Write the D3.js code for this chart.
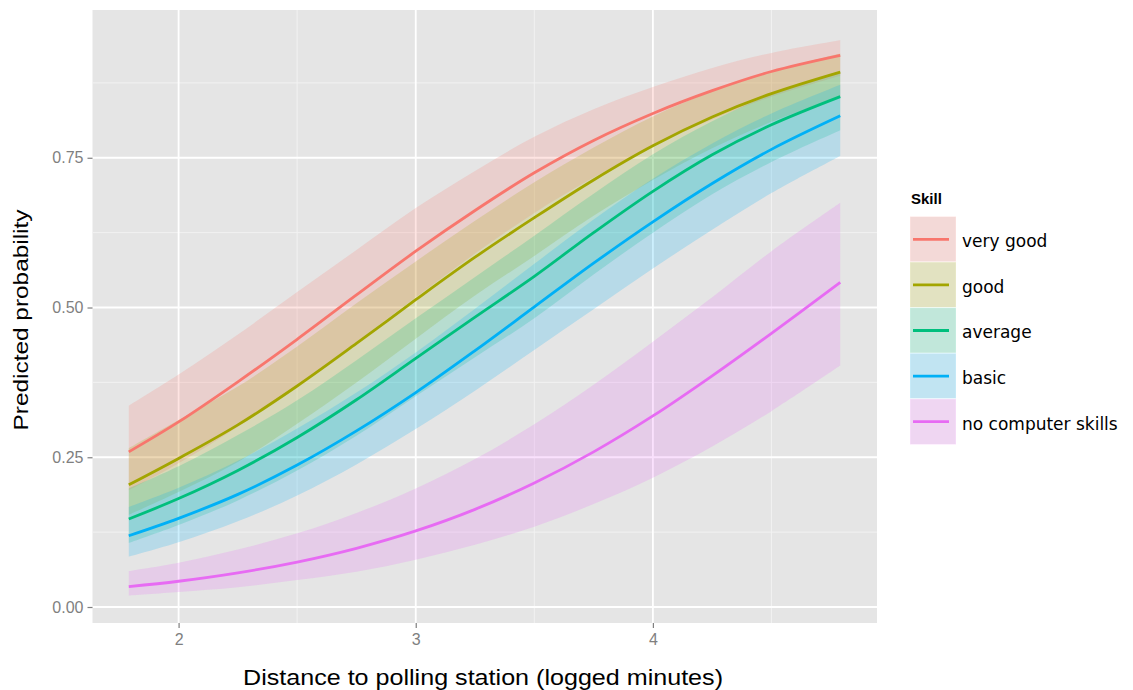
<!DOCTYPE html>
<html>
<head>
<meta charset="utf-8">
<title>Predicted probability by skill</title>
<script src="https://d3js.org/d3.v7.min.js"></script>
<style>
  body { margin: 0; background: #fff; }
  svg { display: block; font-family: "Liberation Sans", Arial, sans-serif; }
</style>
</head>
<body>
<div id="chart"></div>
<script>
// values
const skills = ["very good", "good", "average", "basic", "no computer skills"];
const colors = ["#F8766D", "#A3A500", "#00BF7D", "#00B0F6", "#E76BF3"];

const distance = [1.79, 2.0, 2.25, 2.5, 2.75, 3.0, 3.25, 3.5, 3.75, 4.0, 4.25, 4.5, 4.79];

const fitVeryGood = [0.259, 0.309, 0.376, 0.447, 0.521, 0.594, 0.662, 0.725, 0.779, 0.824, 0.862, 0.894, 0.921];
const lowVeryGood = [0.195, 0.240, 0.301, 0.369, 0.443, 0.517, 0.590, 0.658, 0.717, 0.769, 0.814, 0.852, 0.887];
const highVeryGood = [0.336, 0.388, 0.455, 0.526, 0.596, 0.666, 0.728, 0.785, 0.831, 0.868, 0.900, 0.925, 0.946];

const fitGood = [0.204, 0.248, 0.304, 0.369, 0.440, 0.513, 0.584, 0.650, 0.713, 0.770, 0.818, 0.857, 0.893];
const lowGood = [0.154, 0.192, 0.242, 0.306, 0.375, 0.448, 0.520, 0.586, 0.653, 0.713, 0.766, 0.810, 0.852];
const highGood = [0.265, 0.312, 0.368, 0.435, 0.507, 0.577, 0.645, 0.709, 0.767, 0.819, 0.861, 0.894, 0.924];

const fitAverage = [0.147, 0.181, 0.228, 0.283, 0.346, 0.415, 0.484, 0.552, 0.625, 0.694, 0.755, 0.805, 0.852];
const lowAverage = [0.107, 0.137, 0.178, 0.228, 0.286, 0.352, 0.417, 0.482, 0.555, 0.625, 0.689, 0.743, 0.796];
const highAverage = [0.198, 0.235, 0.287, 0.345, 0.412, 0.482, 0.551, 0.620, 0.690, 0.756, 0.811, 0.856, 0.895];

const fitBasic = [0.119, 0.148, 0.188, 0.237, 0.294, 0.358, 0.428, 0.501, 0.574, 0.643, 0.707, 0.764, 0.820];
const lowBasic = [0.084, 0.108, 0.143, 0.186, 0.238, 0.297, 0.361, 0.429, 0.497, 0.565, 0.630, 0.691, 0.753];
const highBasic = [0.167, 0.199, 0.244, 0.298, 0.358, 0.425, 0.498, 0.573, 0.647, 0.715, 0.774, 0.824, 0.872];

const fitNone = [0.034, 0.043, 0.057, 0.075, 0.098, 0.127, 0.163, 0.207, 0.259, 0.319, 0.386, 0.457, 0.542];
const lowNone = [0.019, 0.025, 0.033, 0.045, 0.059, 0.079, 0.104, 0.134, 0.172, 0.216, 0.268, 0.327, 0.403];
const highNone = [0.060, 0.074, 0.096, 0.123, 0.157, 0.198, 0.247, 0.305, 0.371, 0.443, 0.517, 0.594, 0.675];

const xTicks = [2, 3, 4];
const xMinor = [2.5, 3.5, 4.5];
const yTicks = [0, 0.25, 0.5, 0.75];
const yMinor = [0.125, 0.375, 0.625, 0.875];

const fits = [fitVeryGood, fitGood, fitAverage, fitBasic, fitNone];
const lows = [lowVeryGood, lowGood, lowAverage, lowBasic, lowNone];
const highs = [highVeryGood, highGood, highAverage, highBasic, highNone];

const series = skills.map((s, i) => ({
  skill: s,
  color: colors[i],
  points: distance.map((d, j) => ({ x: d, fit: fits[i][j], lo: lows[i][j], hi: highs[i][j] }))
}));

const W = 1133, H = 690;
const panel = { left: 92.5, right: 877, top: 10, bottom: 623 };

const svg = d3.select("#chart").append("svg")
  .attr("width", W).attr("height", H);

const x = d3.scaleLinear().domain([1.637, 4.945]).range([panel.left, panel.right]);
const y = d3.scaleLinear().domain([-0.0267, 0.9967]).range([panel.bottom, panel.top]);

// panel background
svg.append("rect")
  .attr("x", panel.left).attr("y", panel.top)
  .attr("width", panel.right - panel.left).attr("height", panel.bottom - panel.top)
  .attr("fill", "#E5E5E5");

// grid
const grid = svg.append("g");
grid.selectAll(".ymin").data(yMinor).join("line")
  .attr("x1", panel.left).attr("x2", panel.right)
  .attr("y1", d => y(d)).attr("y2", d => y(d))
  .attr("stroke", "#F2F2F2").attr("stroke-width", 1);
grid.selectAll(".xmin").data(xMinor).join("line")
  .attr("y1", panel.top).attr("y2", panel.bottom)
  .attr("x1", d => x(d)).attr("x2", d => x(d))
  .attr("stroke", "#F2F2F2").attr("stroke-width", 1);
grid.selectAll(".ymaj").data(yTicks).join("line")
  .attr("x1", panel.left).attr("x2", panel.right)
  .attr("y1", d => y(d)).attr("y2", d => y(d))
  .attr("stroke", "#fff").attr("stroke-width", 1.8);
grid.selectAll(".xmaj").data(xTicks).join("line")
  .attr("y1", panel.top).attr("y2", panel.bottom)
  .attr("x1", d => x(d)).attr("x2", d => x(d))
  .attr("stroke", "#fff").attr("stroke-width", 1.8);

// ribbons
const area = d3.area()
  .x(d => x(d.x)).y0(d => y(d.lo)).y1(d => y(d.hi))
  .curve(d3.curveCatmullRom);
svg.append("g").selectAll("path").data(series).join("path")
  .attr("d", d => area(d.points))
  .attr("fill", d => d.color).attr("fill-opacity", 0.2);

// fitted lines
const line = d3.line()
  .x(d => x(d.x)).y(d => y(d.fit))
  .curve(d3.curveCatmullRom);
svg.append("g").selectAll("path").data(series).join("path")
  .attr("d", d => line(d.points))
  .attr("fill", "none").attr("stroke", d => d.color).attr("stroke-width", 2.8);

// axes
const xAxis = svg.append("g")
  .attr("transform", `translate(0,${panel.bottom})`)
  .call(d3.axisBottom(x).tickValues(xTicks).tickFormat(d3.format("d")).tickSizeOuter(0).tickSize(5).tickPadding(6));
const yAxis = svg.append("g")
  .attr("transform", `translate(${panel.left},0)`)
  .call(d3.axisLeft(y).tickValues(yTicks).tickFormat(d3.format(".2f")).tickSizeOuter(0).tickSize(5).tickPadding(4));
[xAxis, yAxis].forEach(a => {
  a.select(".domain").remove();
  a.selectAll(".tick line").attr("stroke", "#7F7F7F").attr("stroke-width", 1.2);
  a.selectAll(".tick text")
    .attr("fill", "#7F7F7F")
    .style("font-family", "'Liberation Sans', Arial, sans-serif")
    .style("font-size", "16px");
});

// axis titles
svg.append("text")
  .attr("x", 483).attr("y", 685)
  .attr("text-anchor", "middle")
  .attr("textLength", 480).attr("lengthAdjust", "spacingAndGlyphs")
  .style("font-size", "22px").attr("fill", "#000")
  .text("Distance to polling station (logged minutes)");
svg.append("text")
  .attr("transform", "translate(28,320) rotate(-90)")
  .attr("text-anchor", "middle")
  .attr("textLength", 221).attr("lengthAdjust", "spacingAndGlyphs")
  .style("font-size", "21px").attr("fill", "#000")
  .text("Predicted probability");

// legend
const legend = svg.append("g").attr("transform", "translate(910,0)");
legend.append("text")
  .attr("x", 1).attr("y", 204)
  .style("font-size", "15px").style("font-weight", "bold")
  .text("Skill");
const keyH = 45.6, keyW = 46, keyTop = 216.5;
const keys = legend.selectAll(".key").data(series).join("g")
  .attr("transform", (d, i) => `translate(0,${keyTop + i * keyH})`);
keys.append("rect")
  .attr("width", keyW).attr("height", keyH)
  .attr("fill", "#F2F2F2").attr("stroke", "#fff").attr("stroke-width", 1);
keys.append("rect")
  .attr("width", keyW).attr("height", keyH)
  .attr("fill", d => d.color).attr("fill-opacity", 0.2);
keys.append("line")
  .attr("x1", 3).attr("x2", keyW - 7)
  .attr("y1", keyH / 2).attr("y2", keyH / 2)
  .attr("stroke", d => d.color).attr("stroke-width", 2.8);
keys.append("text")
  .attr("x", 52).attr("y", keyH / 2 + 8)
  .style("font-family", "'DejaVu Sans', sans-serif")
  .style("font-size", "17px").attr("fill", "#000")
  .text(d => d.skill);
</script>
</body>
</html>
